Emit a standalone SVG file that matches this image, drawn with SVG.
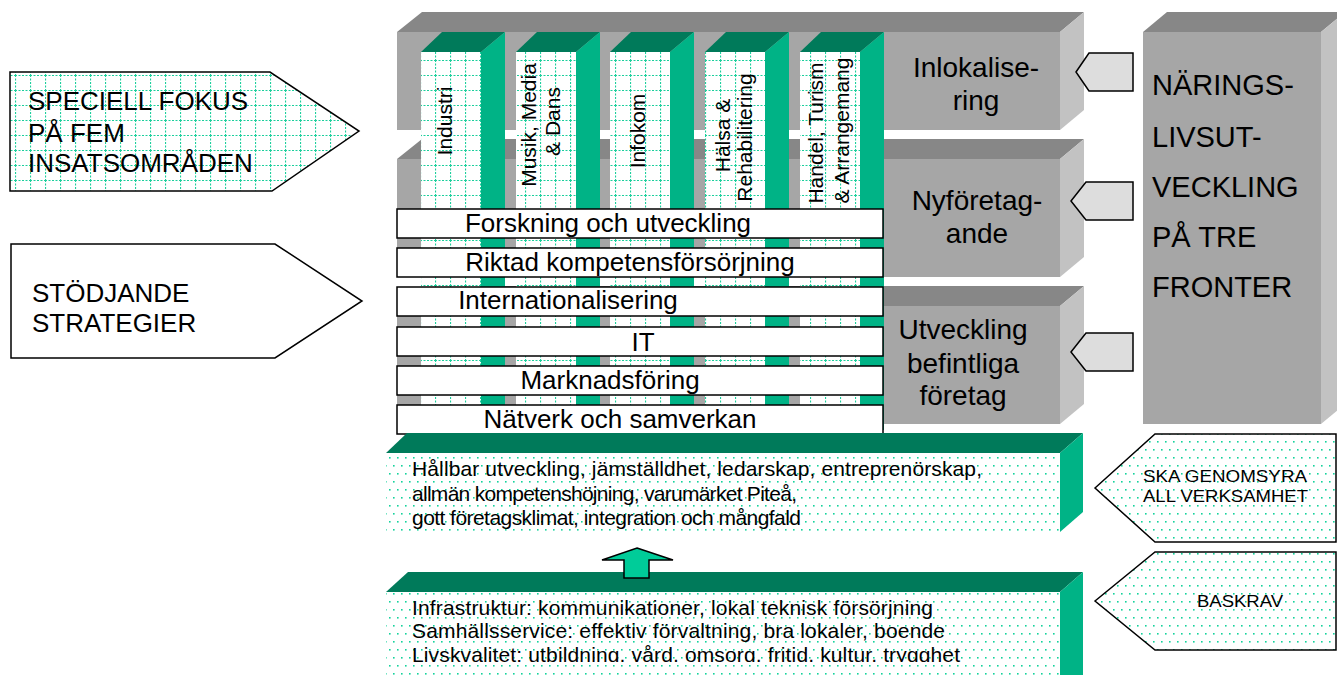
<svg xmlns="http://www.w3.org/2000/svg" width="1337" height="675" viewBox="0 0 1337 675">
<defs>
<pattern id="grid" width="15" height="15" patternUnits="userSpaceOnUse">
<rect width="15" height="15" fill="#fff"/>
<path d="M0 0.5H15M0.5 0V15" stroke="#1ccf9c" stroke-width="1.2" stroke-dasharray="2 1.5" fill="none"/>
</pattern>
<pattern id="dots" width="8" height="16" patternUnits="userSpaceOnUse">
<rect width="8" height="16" fill="#fff"/>
<rect x="1" y="1" width="1.6" height="1.6" fill="#14d39c"/>
<rect x="5" y="9" width="1.6" height="1.6" fill="#14d39c"/>
</pattern>
<clipPath id="clipB"><rect x="386" y="592" width="674" height="70"/></clipPath>
</defs>
<style>
text{font-family:"Liberation Sans",Arial,sans-serif;fill:#000}
.gf{fill:#a6a6a6}.gt{fill:#878787}.gs{fill:#c2c2c2}
.ct{fill:#007a5a}.cs{fill:#00b386}
.col{fill:url(#grid)}
.bar{fill:#fff;stroke:#000;stroke-width:1.5}
.bt{font-size:26px;text-anchor:middle}
.vt{font-size:21px;text-anchor:middle}
.lab{font-size:28px;text-anchor:middle}
.big{font-size:29px}
.arr{font-size:26px}
.small{font-size:21px}
.rt{font-size:17px}
.pent{fill:#dddddd;stroke:#000;stroke-width:1.5}
.dotarr{fill:url(#dots);stroke:#000;stroke-width:1.5}
</style>

<g id="box-inlokalisering">
<rect class="gf" x="397" y="32" width="663" height="98"/>
<polygon class="gt" points="397,32 422,12 1084,12 1060,32"/>
<polygon class="gs" points="1060,32 1084,12 1084,110 1060,130"/>
</g>
<g id="box-nyforetagande">
<rect class="gf" x="397" y="159" width="663" height="118"/>
<polygon class="gt" points="397,159 422,139 1084,139 1060,159"/>
<polygon class="gs" points="1060,159 1084,139 1084,257 1060,277"/>
</g>
<g id="box-utveckling">
<rect class="gf" x="397" y="306" width="663" height="118"/>
<polygon class="gt" points="397,306 422,286 1084,286 1060,306"/>
<polygon class="gs" points="1060,306 1084,286 1084,404 1060,424"/>
</g>
<g id="box-naringsliv">
<rect class="gf" x="1143" y="32" width="178" height="392"/>
<polygon class="gt" points="1143,32 1167,12 1345,12 1321,32"/>
<polygon class="gs" points="1321,32 1345,12 1345,404 1321,424"/>
<text class="big" x="1152" y="95">NÄRINGS-</text>
<text class="big" x="1152" y="147">LIVSUT-</text>
<text class="big" x="1152" y="197">VECKLING</text>
<text class="big" x="1152" y="247">PÅ TRE</text>
<text class="big" x="1152" y="297">FRONTER</text>
</g>

<g id="col-industri">
<rect class="col" x="421" y="52" width="60" height="378"/>
<polygon class="ct" points="421,52 442,32 505,32 481,52"/>
<polygon class="cs" points="481,52 505,32 505,430 481,430"/>
<text class="vt" transform="translate(452,121) rotate(-90)">Industri</text>
</g>
<g id="col-musik">
<rect class="col" x="516" y="52" width="60" height="378"/>
<polygon class="ct" points="516,52 537,32 600,32 576,52"/>
<polygon class="cs" points="576,52 600,32 600,430 576,430"/>
<text class="vt" transform="translate(536,125) rotate(-90)">Musik, Media</text>
<text class="vt" transform="translate(560,121.5) rotate(-90)">&amp; Dans</text>
</g>
<g id="col-infokom">
<rect class="col" x="610" y="52" width="60" height="378"/>
<polygon class="ct" points="610,52 631,32 694,32 670,52"/>
<polygon class="cs" points="670,52 694,32 694,430 670,430"/>
<text class="vt" transform="translate(645,131) rotate(-90)">Infokom</text>
</g>
<g id="col-halsa">
<rect class="col" x="705" y="52" width="60" height="378"/>
<polygon class="ct" points="705,52 726,32 789,32 765,52"/>
<polygon class="cs" points="765,52 789,32 789,430 765,430"/>
<text class="vt" transform="translate(730,135.5) rotate(-90)">Hälsa &amp;</text>
<text class="vt" transform="translate(752,137.5) rotate(-90)">Rehabilitering</text>
</g>
<g id="col-handel">
<rect class="col" x="800" y="52" width="60" height="378"/>
<polygon class="ct" points="800,52 821,32 884,32 860,52"/>
<polygon class="cs" points="860,52 884,32 884,430 860,430"/>
<text class="vt" transform="translate(823,133) rotate(-90)">Handel, Turism</text>
<text class="vt" transform="translate(849,130.5) rotate(-90)">&amp; Arrangemang</text>
</g>

<g id="labels-fronts">
<text class="lab" x="976" y="77">Inlokalise-</text>
<text class="lab" x="976" y="110">ring</text>
<text class="lab" x="977" y="210">Nyföretag-</text>
<text class="lab" x="977" y="243">ande</text>
<text class="lab" x="963" y="339">Utveckling</text>
<text class="lab" x="963" y="373">befintliga</text>
<text class="lab" x="963" y="405">företag</text>
</g>

<g id="bar-forskning"><rect class="bar" x="397" y="209" width="486" height="29"/><text class="bt" x="608" y="232">Forskning och utveckling</text></g>
<g id="bar-kompetens"><rect class="bar" x="397" y="248" width="486" height="29"/><text class="bt" x="630" y="271">Riktad kompetensförsörjning</text></g>
<g id="bar-internationalisering"><rect class="bar" x="397" y="287" width="486" height="29"/><text class="bt" x="568" y="309">Internationalisering</text></g>
<g id="bar-it"><rect class="bar" x="397" y="327" width="486" height="29"/><text class="bt" x="643" y="351">IT</text></g>
<g id="bar-marknadsforing"><rect class="bar" x="397" y="366" width="486" height="29"/><text class="bt" x="610" y="389">Marknadsföring</text></g>
<g id="bar-natverk"><rect class="bar" x="397" y="405" width="486" height="29"/><text class="bt" x="620" y="428">Nätverk och samverkan</text></g>

<g id="base-hallbar">
<polygon class="ct" points="386,453 407,433 1083,433 1060,453"/>
<rect x="386" y="453" width="674" height="79" fill="url(#dots)"/>
<polygon class="cs" points="1060,453 1083,433 1083,512 1060,532"/>
<text class="small" x="412" y="476" textLength="570" lengthAdjust="spacing">Hållbar utveckling, jämställdhet, ledarskap, entreprenörskap,</text>
<text class="small" x="412" y="501" textLength="385" lengthAdjust="spacing">allmän kompetenshöjning, varumärket Piteå,</text>
<text class="small" x="412" y="525" textLength="389" lengthAdjust="spacing">gott företagsklimat, integration och mångfald</text>
</g>
<g id="base-infrastruktur">
<polygon class="ct" points="386,592 408,572 1083,572 1060,592"/>
<rect x="386" y="592" width="674" height="83" fill="url(#dots)"/>
<polygon class="cs" points="1060,592 1083,572 1083,675 1060,675"/>
<g clip-path="url(#clipB)">
<text class="small" x="412" y="615" textLength="521" lengthAdjust="spacing">Infrastruktur: kommunikationer, lokal teknisk försörjning</text>
<text class="small" x="412" y="638" textLength="533" lengthAdjust="spacing">Samhällsservice: effektiv förvaltning, bra lokaler, boende</text>
<text class="small" x="412" y="662" textLength="548" lengthAdjust="spacing">Livskvalitet: utbildning, vård, omsorg, fritid, kultur, trygghet</text>
</g>
</g>

<g id="arrow-speciell">
<polygon points="10,72 270,72 359,131 272,191 10,191" fill="url(#grid)" stroke="#000" stroke-width="1.5"/>
<text class="arr" x="28" y="110">SPECIELL FOKUS</text>
<text class="arr" x="28" y="142">PÅ FEM</text>
<text class="arr" x="28" y="172">INSATSOMRÅDEN</text>
</g>
<g id="arrow-stodjande">
<polygon points="11,244 275,244 362,301 275,358 11,358" fill="#fff" stroke="#000" stroke-width="1.5"/>
<text class="arr" x="32" y="302">STÖDJANDE</text>
<text class="arr" x="32" y="332">STRATEGIER</text>
</g>
<g id="arrow-genomsyra">
<polygon class="dotarr" points="1095,488 1155,434 1336,434 1336,542 1155,542"/>
<text class="rt" x="1143" y="482" textLength="164" lengthAdjust="spacingAndGlyphs">SKA GENOMSYRA</text>
<text class="rt" x="1143" y="502" textLength="165" lengthAdjust="spacingAndGlyphs">ALL VERKSAMHET</text>
</g>
<g id="arrow-baskrav">
<polygon class="dotarr" points="1095,601 1155,552 1336,552 1336,650 1155,650"/>
<text class="rt" x="1197" y="607" textLength="86" lengthAdjust="spacingAndGlyphs">BASKRAV</text>
</g>

<g id="connectors">
<polygon class="pent" points="1076,72 1089,53 1133,53 1133,91 1089,91"/>
<polygon class="pent" points="1071,201 1086,182 1133,182 1133,220 1086,220"/>
<polygon class="pent" points="1071,352 1086,333 1133,333 1133,371 1086,371"/>
<polygon points="637,548 673,560 649,560 649,578 624,578 624,560 602,560" fill="#00cc99" stroke="#000" stroke-width="1.5"/>
</g>
</svg>
